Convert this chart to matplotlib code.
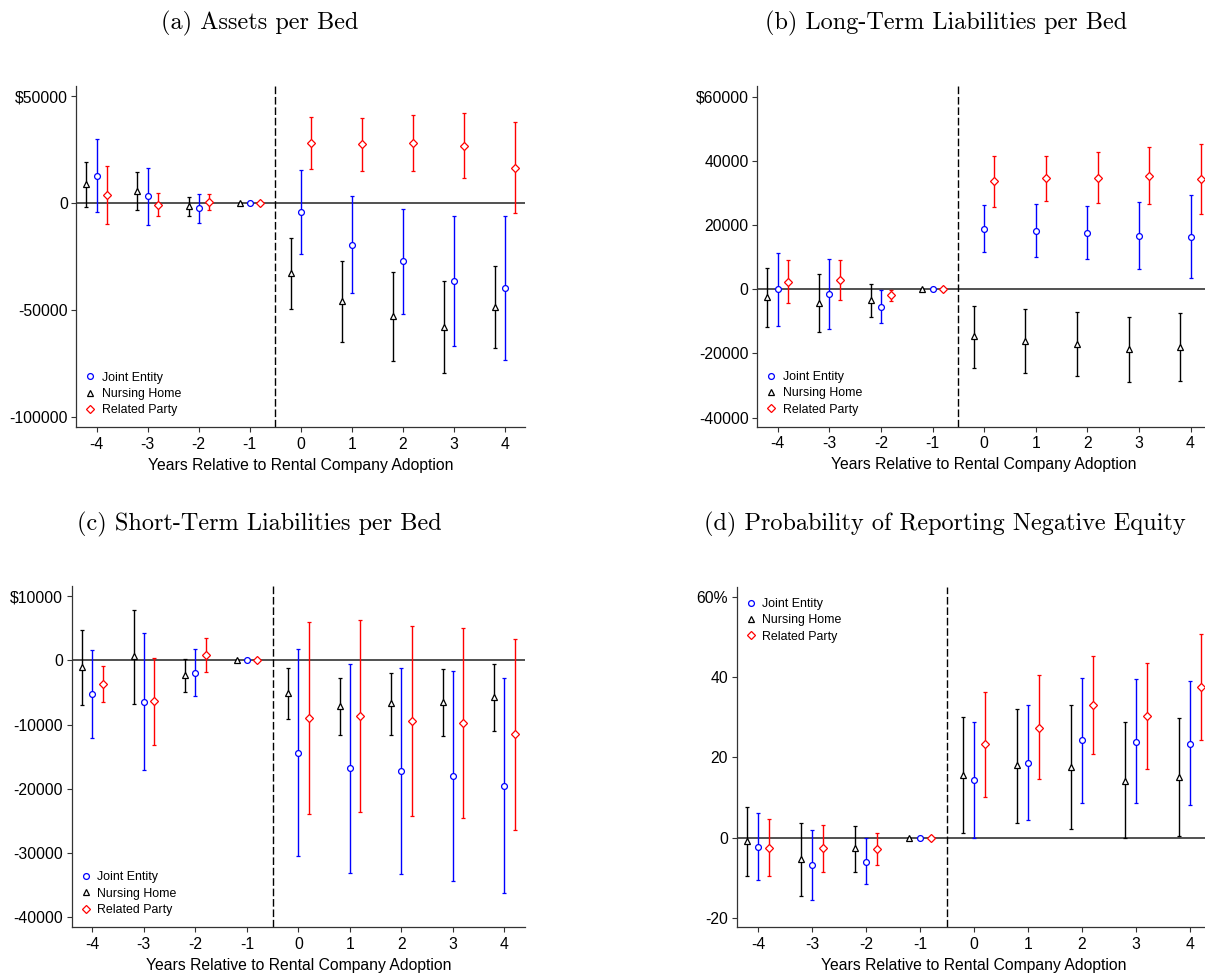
import matplotlib
matplotlib.use("Agg")
import matplotlib.pyplot as plt
from matplotlib.lines import Line2D
import numpy as np

# ---------------- data ----------------
years = [-4, -3, -2, -1, 0, 1, 2, 3, 4]
series_names = ["Joint Entity", "Nursing Home", "Related Party"]
xlabel_text = "Years Relative to Rental Company Adoption"
titles = ["(a) Assets per Bed", "(b) Long-Term Liabilities per Bed",
          "(c) Short-Term Liabilities per Bed",
          "(d) Probability of Reporting Negative Equity"]

# (a) Assets per Bed
a_joint = [12800, 3300, -2300, 0, -4200, -19400, -27000, -36300, -39800]
a_joint_lo = [-4200, -10000, -9400, 0, -23750, -42200, -51600, -66600, -73100]
a_joint_hi = [30000, 16400, 4400, 0, 15600, 3400, -2700, -5900, -6250]
a_nh = [8900, 5800, -1250, 0, -32700, -45500, -52700, -57700, -48400]
a_nh_lo = [-1900, -3300, -6100, 0, -49500, -64700, -73600, -79400, -67500]
a_nh_hi = [19000, 14500, 3000, 0, -16400, -26900, -32200, -36300, -29400]
a_rp = [3750, -800, 600, 0, 28000, 27500, 28100, 26700, 16600]
a_rp_lo = [-9800, -6250, -3300, 0, 15900, 15000, 15150, 11700, -4800]
a_rp_hi = [17200, 4800, 4400, 0, 40000, 39800, 41250, 41900, 38000]
a_yticks = [50000, 0, -50000, -100000]
a_yticklabels = [r"\$50000", "0", "-50000", "-100000"]

# (b) Long-Term Liabilities per Bed
b_joint = [0, -1450, -5400, 0, 18900, 18300, 17650, 16700, 16400]
b_joint_lo = [-11300, -12350, -10500, 0, 11700, 10200, 9550, 6350, 3650]
b_joint_hi = [11300, 9550, -100, 0, 26100, 26400, 25800, 27300, 29300]
b_nh = [-2400, -4150, -3430, 0, -14650, -16000, -16900, -18600, -17900]
b_nh_lo = [-11700, -13300, -8700, 0, -24400, -26000, -26900, -29000, -28500]
b_nh_hi = [6650, 4900, 1770, 0, -5100, -6300, -6950, -8500, -7300]
b_rp = [2400, 2800, -1870, 0, 33650, 34500, 34800, 35400, 34300]
b_rp_lo = [-4150, -3430, -3640, 0, 25770, 27500, 26800, 26700, 23400]
b_rp_hi = [9050, 9050, -100, 0, 41650, 41650, 42800, 44250, 45200]
b_yticks = [60000, 40000, 20000, 0, -20000, -40000]
b_yticklabels = [r"\$60000", "40000", "20000", "0", "-20000", "-40000"]

# (c) Short-Term Liabilities per Bed
c_joint = [-5190, -6440, -1920, 0, -14380, -16800, -17230, -18000, -19500]
c_joint_lo = [-12040, -17080, -5600, 0, -30400, -33060, -33200, -34360, -36170]
c_joint_hi = [1660, 4260, 1820, 0, 1820, -520, -1140, -1600, -2750]
c_nh = [-990, 620, -2230, 0, -5140, -7060, -6700, -6440, -5700]
c_nh_lo = [-6950, -6800, -4930, 0, -9130, -11570, -11570, -11730, -11000]
c_nh_hi = [4780, 7900, 260, 0, -1250, -2700, -1920, -1350, -520]
c_rp = [-3680, -6380, 830, 0, -8980, -8670, -9450, -9760, -11470]
c_rp_lo = [-6540, -13180, -1820, 0, -23870, -23560, -24240, -24550, -26370]
c_rp_hi = [-830, 415, 3530, 0, 5970, 6230, 5400, 5090, 3370]
c_yticks = [10000, 0, -10000, -20000, -30000, -40000]
c_yticklabels = [r"\$10000", "0", "-10000", "-20000", "-30000", "-40000"]

# (d) Probability of Reporting Negative Equity (percentage points)
d_joint = [-2.3, -6.9, -6.0, 0, 14.4, 18.6, 24.2, 23.9, 23.4]
d_joint_lo = [-10.7, -15.5, -11.6, 0, 0.0, 4.3, 8.7, 8.5, 8.0]
d_joint_hi = [6.0, 1.8, -0.2, 0, 28.8, 33.0, 39.7, 39.5, 39.0]
d_nh = [-0.9, -5.3, -2.7, 0, 15.6, 18.0, 17.5, 14.2, 15.2]
d_nh_lo = [-9.7, -14.5, -8.6, 0, 1.0, 3.6, 2.1, -0.2, 0.4]
d_nh_hi = [7.6, 3.6, 2.8, 0, 30.0, 32.1, 32.9, 28.8, 29.9]
d_rp = [-2.6, -2.6, -2.8, 0, 23.2, 27.4, 33.1, 30.3, 37.6]
d_rp_lo = [-9.7, -8.5, -6.9, 0, 10.1, 14.5, 20.9, 17.1, 24.4]
d_rp_hi = [4.6, 3.2, 1.2, 0, 36.2, 40.4, 45.2, 43.6, 50.7]
d_yticks = [60, 40, 20, 0, -20]
d_yticklabels = ["60%", "40", "20", "0", "-20"]

# ---------------- style / layout ----------------
W, H = 1205, 973
TICK_FONT = "Liberation Sans"
colors = {"Joint Entity": "#0000ff", "Nursing Home": "#000000", "Related Party": "#ff0000"}
markers = {"Joint Entity": "o", "Nursing Home": "^", "Related Party": "D"}
msize = {"Joint Entity": 4.2, "Nursing Home": 4.4, "Related Party": 3.8}
offsets = {"Joint Entity": 0.0, "Nursing Home": -0.2, "Related Party": 0.2}

panels = [
    dict(box=(76.3, 525.1, 86.0, 427.3), ylim=(-104670, 54670),
         series={"Joint Entity": (a_joint, a_joint_lo, a_joint_hi),
                 "Nursing Home": (a_nh, a_nh_lo, a_nh_hi),
                 "Related Party": (a_rp, a_rp_lo, a_rp_hi)},
         yticks=a_yticks, ylabels=a_yticklabels, leg="lower",
         title_xy=(260, 23)),
    dict(box=(757.1, 1211.2, 86.0, 426.7), ylim=(-42800, 63300),
         series={"Joint Entity": (b_joint, b_joint_lo, b_joint_hi),
                 "Nursing Home": (b_nh, b_nh_lo, b_nh_hi),
                 "Related Party": (b_rp, b_rp_lo, b_rp_hi)},
         yticks=b_yticks, ylabels=b_yticklabels, leg="lower",
         title_xy=(946, 23)),
    dict(box=(71.7, 525.0, 586.0, 927.0), ylim=(-41510, 11560),
         series={"Joint Entity": (c_joint, c_joint_lo, c_joint_hi),
                 "Nursing Home": (c_nh, c_nh_lo, c_nh_hi),
                 "Related Party": (c_rp, c_rp_lo, c_rp_hi)},
         yticks=c_yticks, ylabels=c_yticklabels, leg="lower",
         title_xy=(259, 524)),
    dict(box=(736.7, 1211.3, 586.7, 927.0), ylim=(-22.3, 62.5),
         series={"Joint Entity": (d_joint, d_joint_lo, d_joint_hi),
                 "Nursing Home": (d_nh, d_nh_lo, d_nh_hi),
                 "Related Party": (d_rp, d_rp_lo, d_rp_hi)},
         yticks=d_yticks, ylabels=d_yticklabels, leg="upper",
         title_xy=(944.5, 524)),
]

fig = plt.figure(figsize=(W / 100, H / 100), dpi=100)
fig.patch.set_facecolor("white")

spine_col = "#333333"
for p, title in zip(panels, titles):
    x0, x1, ytop, ybot = p["box"]
    ax = fig.add_axes([x0 / W, 1 - ybot / H, (x1 - x0) / W, (ybot - ytop) / H])
    ax.set_xlim(-4.4, 4.4)
    ax.set_ylim(*p["ylim"])
    ax.axhline(0, color="#222222", lw=1.1, zorder=1)
    ax.axvline(-0.5, color="black", lw=1.0, dashes=(5.5, 2.0), zorder=1)
    handles = []
    for name in series_names:
        coef, lo, hi = p["series"][name]
        coef = np.asarray(coef, float)
        lo = np.asarray(lo, float)
        hi = np.asarray(hi, float)
        xs = np.asarray(years, float) + offsets[name]
        col = colors[name]
        ax.errorbar(xs, coef, yerr=[coef - lo, hi - coef], fmt="none",
                    ecolor=col, elinewidth=1.0, capsize=1.1, capthick=0.9,
                    zorder=2)
        ax.plot(xs, coef, linestyle="none", marker=markers[name],
                ms=msize[name], mfc="white", mec=col, mew=0.9, zorder=3)
        handles.append(Line2D([], [], linestyle="none", marker=markers[name],
                              ms=msize[name], mfc="white", mec=col, mew=0.9))
    for s in ["top", "right"]:
        ax.spines[s].set_visible(False)
    for s in ["left", "bottom"]:
        ax.spines[s].set_color(spine_col)
        ax.spines[s].set_linewidth(0.9)
    ax.set_xticks(years)
    ax.set_xticklabels([str(v) for v in years], fontfamily=TICK_FONT, fontsize=11.3)
    ax.set_yticks(p["yticks"])
    ax.set_yticklabels(p["ylabels"], fontfamily=TICK_FONT, fontsize=11.3)
    ax.tick_params(axis="x", length=3.6, width=0.8, color=spine_col, pad=3.3)
    ax.tick_params(axis="y", length=3.6, width=0.8, color=spine_col, pad=2.5)
    ax.set_xlabel(xlabel_text, fontfamily=TICK_FONT, fontsize=11.3, labelpad=4.3)

    axw = x1 - x0
    axh = ybot - ytop
    if p["leg"] == "lower":
        ax.legend(handles, series_names, loc="lower left",
                  bbox_to_anchor=(9 / axw, 10.9 / axh), borderaxespad=0,
                  borderpad=0, frameon=False, handlelength=0.8,
                  handletextpad=0.55, labelspacing=0.35,
                  prop={"family": TICK_FONT, "size": 8.9})
    else:
        ax.legend(handles, series_names, loc="upper left",
                  bbox_to_anchor=(9 / axw, 1 - 11.2 / axh), borderaxespad=0,
                  borderpad=0, frameon=False, handlelength=0.8,
                  handletextpad=0.55, labelspacing=0.35,
                  prop={"family": TICK_FONT, "size": 8.9})

    tx, ty = p["title_xy"]
    fig.text(tx / W, 1 - ty / H, title, ha="center", va="center",
             fontfamily=["cmr10", "DejaVu Serif"], fontsize=17.5)

fig.savefig("out.png", dpi=100, facecolor="white")
